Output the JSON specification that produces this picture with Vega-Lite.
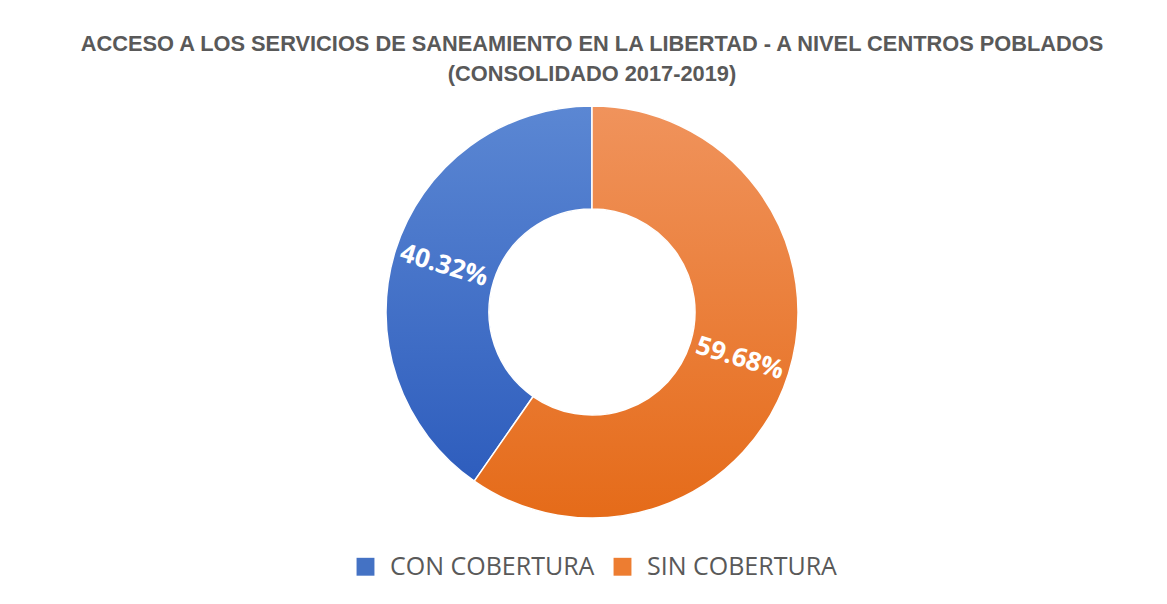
{
  "$schema": "https://vega.github.io/schema/vega-lite/v6.json",
  "width": 412,
  "height": 412,
  "autosize": {"type": "none"},
  "padding": {"left": 386, "top": 106, "right": 369, "bottom": 86},
  "background": "white",
  "title": {
    "text": ["ACCESO A LOS SERVICIOS DE SANEAMIENTO EN LA LIBERTAD - A NIVEL CENTROS POBLADOS", "(CONSOLIDADO 2017-2019)"],
    "font": "Liberation Sans",
    "fontSize": 21.8,
    "fontWeight": "bold",
    "color": "#595959",
    "lineHeight": 30,
    "anchor": "middle",
    "offset": 17
  },
  "data": {
    "values": [
      {"categoria": "CON COBERTURA", "valor": 40.32, "etiqueta": "40.32%"},
      {"categoria": "SIN COBERTURA", "valor": 59.68, "etiqueta": "59.68%"}
    ]
  },
  "encoding": {
    "theta": {"field": "valor", "type": "quantitative", "stack": true},
    "order": {"field": "valor", "type": "quantitative", "sort": "descending"}
  },
  "layer": [
    {
      "mark": {"type": "arc", "outerRadius": 206, "innerRadius": 103},
      "encoding": {
        "color": {
          "field": "categoria",
          "type": "nominal",
          "scale": {"domain": ["CON COBERTURA", "SIN COBERTURA"], "range": ["#4472C4", "#ED7D31"]},
          "legend": {
            "title": null,
            "orient": "none",
            "legendX": -33,
            "legendY": 448,
            "direction": "horizontal",
            "symbolType": "square",
            "symbolSize": 320,
            "symbolStrokeWidth": 0,
            "labelFont": "Open Sans",
            "labelFontSize": 25,
            "labelLimit": 0,
            "labelColor": "#595959",
            "labelOffset": 12,
            "columnPadding": 15
          }
        }
      }
    },
    {
      "mark": {"type": "arc", "outerRadius": 206, "innerRadius": 103, "stroke": "white", "strokeWidth": 1.5},
      "encoding": {
        "fill": {
          "condition": {
            "test": "datum.categoria === 'CON COBERTURA'",
            "value": {
              "gradient": "linear", "x1": 0, "y1": 0, "x2": 0, "y2": 1,
              "stops": [{"offset": 0, "color": "#5B87D3"}, {"offset": 1, "color": "#2E5DBD"}]
            }
          },
          "value": {
            "gradient": "linear", "x1": 0, "y1": 0, "x2": 0, "y2": 1,
            "stops": [{"offset": 0, "color": "#F0935C"}, {"offset": 1, "color": "#E56B19"}]
          }
        }
      }
    },
    {
      "mark": {"type": "text", "radius": 155, "angle": 17, "font": "Open Sans", "fontSize": 26, "fontWeight": "bold", "color": "white", "align": "center", "baseline": "middle"},
      "encoding": {
        "text": {"field": "etiqueta", "type": "nominal"}
      }
    }
  ],
  "config": {"view": {"stroke": null}}
}
